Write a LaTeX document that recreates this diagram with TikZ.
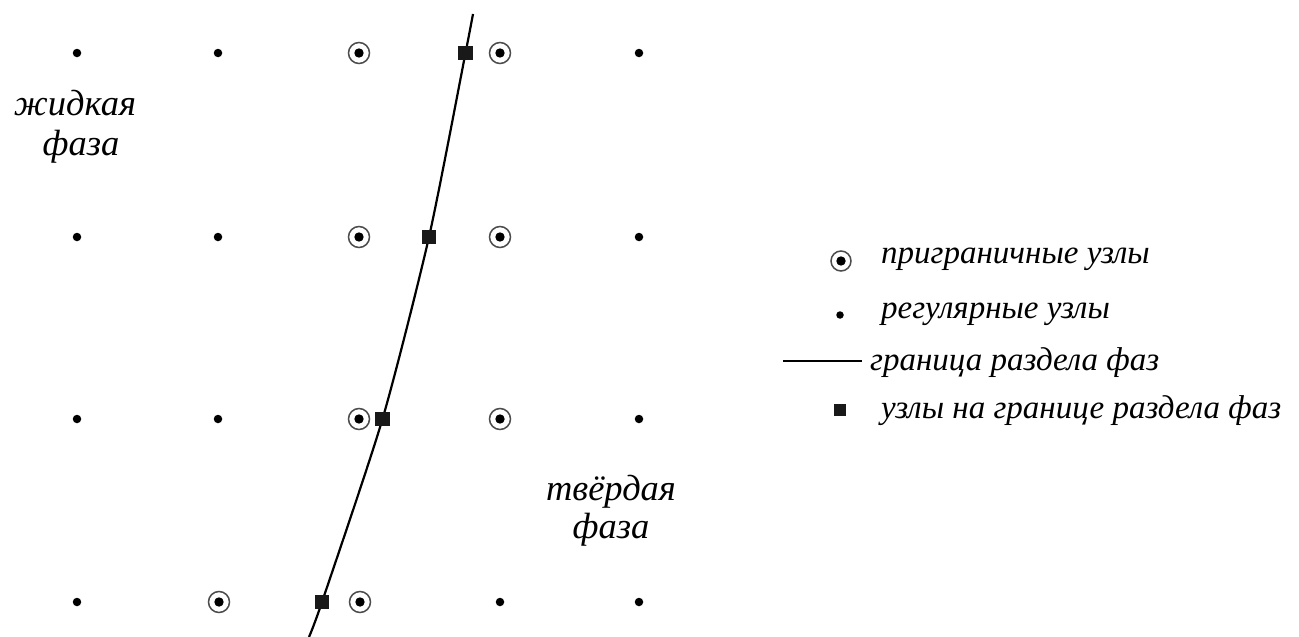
\documentclass[tikz,border=0pt]{standalone}
\usepackage{fontspec}
\setmainfont{Liberation Serif}
\begin{document}
\begin{tikzpicture}[x=1pt,y=-1pt,
  regdot/.style={circle,fill=black,inner sep=0pt,minimum size=8.5pt},
  bordnode/.style={circle,draw=black!70,line width=1.5pt,fill=white,inner sep=0pt,minimum size=21pt,
     path picture={\fill[black] (path picture bounding box.center) circle (4.7pt);}},
  sqnode/.style={rectangle,fill=black!90,inner sep=0pt,minimum size=14.5pt},
  lbl/.style={font=\fontsize{33}{40}\selectfont\itshape,inner sep=0pt},
  phlbl/.style={font=\fontsize{36.5}{40}\selectfont\itshape,inner sep=0pt},
  bline/.style={line width=2.2pt,black}]
\useasboundingbox (0,0) rectangle (1299,637);
% row 1
\node[regdot] (a1) at (77,53) {};
\node[regdot] (a2) at (218,53) {};
\node[bordnode] (a3) at (359,53) {};
\node[bordnode] (a4) at (500,53) {};
\node[regdot] (a5) at (639,53) {};
% row 2
\node[regdot] (b1) at (77,237) {};
\node[regdot] (b2) at (218,237) {};
\node[bordnode] (b3) at (359,237) {};
\node[bordnode] (b4) at (500,237) {};
\node[regdot] (b5) at (639,237) {};
% row 3
\node[regdot] (c1) at (77,419) {};
\node[regdot] (c2) at (218,419) {};
\node[bordnode] (c3) at (359,419) {};
\node[bordnode] (c4) at (500,419) {};
\node[regdot] (c5) at (639,419) {};
% row 4
\node[regdot] (d1) at (77,602) {};
\node[bordnode] (d2) at (219,602) {};
\node[bordnode] (d3) at (360,602) {};
\node[regdot] (d4) at (500,602) {};
\node[regdot] (d5) at (639,602) {};
% interface
\coordinate (top) at (473,14);
\coordinate (bot) at (309,637);
\coordinate (s1p) at (465.5,53);
\coordinate (s2p) at (429,237);
\coordinate (s3p) at (382.5,419);
\coordinate (s4p) at (322,602);
\draw[bline] plot[smooth,tension=0.4] coordinates {(top) (s1p) (s2p) (s3p) (s4p) (bot)};
\node[sqnode] (s1) at (s1p) {};
\node[sqnode] (s2) at (s2p) {};
\node[sqnode] (s3) at (s3p) {};
\node[sqnode] (s4) at (s4p) {};
% phase labels
\node[phlbl,anchor=base] (liq1) at (75,115) {жидкая};
\node[phlbl,anchor=base] (liq2) at (81,155) {фаза};
\node[phlbl,anchor=base] (sol1) at (611,500) {твёрдая};
\node[phlbl,anchor=base] (sol2) at (611,538) {фаза};
% legend
\node[bordnode,minimum size=20pt] (lg1) at (841,261) {};
\node[regdot,minimum size=7.5pt] (lg2) at (840,315) {};
\coordinate (lgA) at (783,361);
\coordinate (lgB) at (862,361);
\draw[line width=1.6pt] (lgA) -- (lgB);
\node[sqnode,minimum size=12.5pt] (lg4) at (840,410) {};
\node[lbl,anchor=base west] (t1) at (881,263) {приграничные узлы};
\node[lbl,anchor=base west] (t2) at (881,318) {регулярные узлы};
\node[lbl,anchor=base west] (t3) at (870,370) {граница раздела фаз};
\node[lbl,anchor=base west] (t4) at (881,418) {узлы на границе раздела фаз};
\end{tikzpicture}
\end{document}
